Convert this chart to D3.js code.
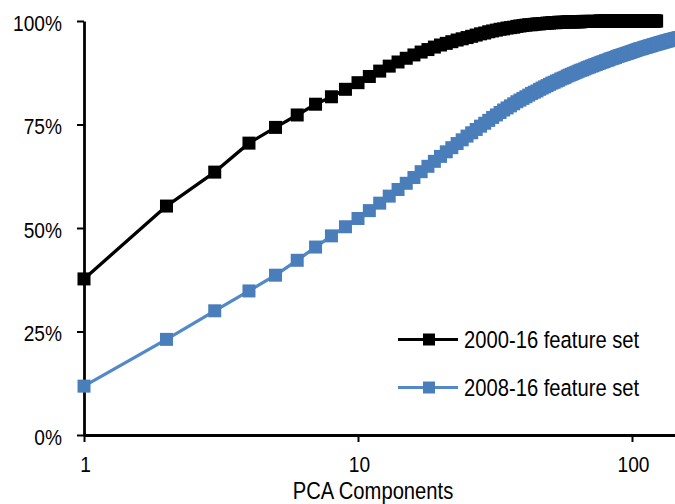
<!DOCTYPE html>
<html><head><meta charset="utf-8">
<script src="https://cdn.jsdelivr.net/npm/d3@7"></script>
<style>body{margin:0;background:#fff}svg{display:block}</style>
</head><body><svg id="c" width="675" height="504"></svg>
<script>
// Cumulative explained variance (%) by number of PCA components, one value per component (1..N)
const series2000 = [
37.7,55.3,63.5,70.5,74.3,77.3,79.9,81.7,83.5,85.1,
86.6,87.9,89.1,90.1,91.0,91.8,92.5,93.1,93.7,94.2,
94.6,95.0,95.4,95.7,96.0,96.3,96.6,96.9,97.1,97.4,
97.6,97.8,98.0,98.1,98.3,98.4,98.5,98.7,98.8,98.9,
99.0,99.1,99.1,99.2,99.3,99.3,99.4,99.4,99.5,99.5,
99.6,99.6,99.6,99.7,99.7,99.7,99.7,99.8,99.8,99.8,
99.8,99.8,99.8,99.8,99.8,99.9,99.9,99.9,99.9,99.9,
99.9,99.9,99.9,99.9,99.9,100,100,100,100,100,
100,100,100,100,100,100,100,100,100,100,
100,100,100,100,100,100,100,100,100,100,
100,100,100,100,100,100,100,100,100,100,
100,100,100,100,100,100,100,100,100,100,
100,100,100];
const series2008 = [
11.8,23.1,30.0,34.8,38.6,42.2,45.4,48.1,50.3,52.3,
54.2,56.0,57.7,59.3,60.8,62.2,63.6,64.9,66.1,67.3,
68.4,69.4,70.4,71.3,72.2,73.0,73.8,74.6,75.3,76.0,
76.7,77.3,77.9,78.5,79.0,79.5,80.0,80.5,80.9,81.3,
81.7,82.1,82.5,82.8,83.1,83.5,83.8,84.1,84.4,84.7,
85.0,85.2,85.5,85.7,86.0,86.2,86.4,86.7,86.9,87.1,
87.3,87.5,87.7,87.9,88.1,88.2,88.4,88.6,88.8,88.9,
89.1,89.2,89.4,89.5,89.7,89.8,90.0,90.1,90.2,90.4,
90.5,90.6,90.8,90.9,91.0,91.1,91.2,91.4,91.5,91.6,
91.7,91.8,91.9,92.0,92.1,92.2,92.3,92.4,92.5,92.6,
92.7,92.8,92.9,93.0,93.1,93.2,93.3,93.3,93.4,93.5,
93.6,93.7,93.7,93.8,93.9,94.0,94.0,94.1,94.2,94.3,
94.3,94.4,94.5,94.5,94.6,94.7,94.7,94.8,94.9,94.9,
95.0,95.1,95.1,95.2,95.2,95.3,95.4,95.4,95.5,95.5,
95.6,95.6,95.7,95.7,95.8,95.8,95.9,95.9,96.0,96.0];
const seriesNames = ["2000-16 feature set","2008-16 feature set"];
const seriesColors = ["#000000","#4a7ebb"];
const lineColors = ["#000000","#5289c8"];
const yTicks = [0,25,50,75,100];
const xTicks = [1,10,100];
const xTitle = "PCA Components";

const svg = d3.select("#c");
const x = d3.scaleLog().domain([1,150]).range([84, 84 + 274*Math.log10(150)]);
const y = d3.scaleLinear().domain([0,100]).range([435,21]);
const FONT = "'Liberation Sans', Arial, sans-serif";

// axes
const yAx = svg.append("g").attr("transform","translate(84,0)")
  .call(d3.axisLeft(y).tickValues(yTicks).tickFormat(d=>d+"%").tickSize(7).tickSizeOuter(0));
const xAx = svg.append("g").attr("transform","translate(0,435)")
  .call(d3.axisBottom(x).tickValues(xTicks).tickFormat(d3.format("d")).tickSize(7).tickSizeOuter(0));
[yAx,xAx].forEach(g=>{
  g.select(".domain").attr("stroke","#000").attr("stroke-width",2.8);
  g.selectAll(".tick line").attr("stroke","#000").attr("stroke-width",2);
  g.selectAll("text").attr("font-family",FONT).attr("font-size",22).attr("fill","#000");
});
yAx.selectAll(".tick text").attr("x",0).attr("dy",0)
  .attr("transform","translate(-22,9) scale(0.87,1)");
xAx.selectAll(".tick text").attr("y",0).attr("dy",0)
  .attr("transform","translate(1,37) scale(0.87,1)");

// axis title
svg.append("text").attr("transform","translate(373,499) scale(0.86,1)")
  .attr("text-anchor","middle").attr("font-family",FONT).attr("font-size",23.5).text(xTitle);

// series
const data = [series2000, series2008];
const line = d3.line().x((d,i)=>x(i+1)).y(d=>y(d));
const MS = 13;
[1,0].forEach(k=>{
  const vals = data[k];
  svg.append("path").datum(vals).attr("d",line).attr("fill","none")
    .attr("stroke",lineColors[k]).attr("stroke-width",3.3).attr("stroke-linejoin","round");
  svg.append("g").selectAll("rect").data(vals).join("rect")
    .attr("x",(d,i)=>x(i+1)-MS/2).attr("y",d=>y(d)-MS/2)
    .attr("width",MS).attr("height",MS).attr("fill",seriesColors[k]);
});

// legend
const legY = [339.5, 387.5];
seriesNames.forEach((name,k)=>{
  const g = svg.append("g");
  g.append("line").attr("x1",398).attr("x2",458).attr("y1",legY[k]).attr("y2",legY[k])
    .attr("stroke",lineColors[k]).attr("stroke-width",3.2);
  g.append("rect").attr("x",429-6).attr("y",legY[k]-6).attr("width",12).attr("height",12)
    .attr("fill",seriesColors[k]);
  g.append("text").attr("transform",`translate(464,${legY[k]+8}) scale(0.86,1)`)
    .attr("font-family",FONT).attr("font-size",23.5).attr("fill","#000").text(name);
});
</script></body></html>
